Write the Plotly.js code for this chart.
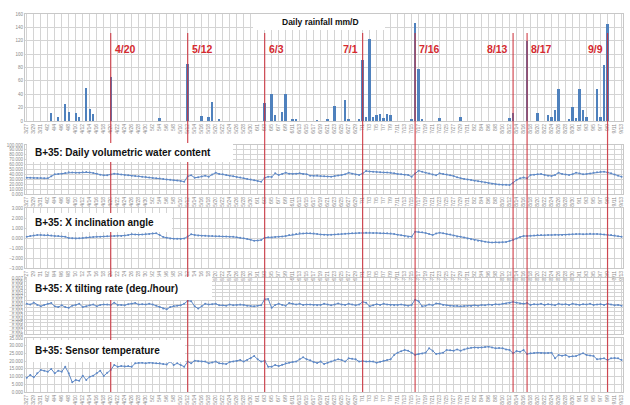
<!DOCTYPE html>
<html>
<head>
<meta charset="utf-8">
<script src="https://cdn.plot.ly/plotly-3.0.1.min.js"></script>
<style>html,body{margin:0;padding:0;background:#fff;}#chart{width:630px;height:405px;}</style>
</head>
<body>
<div id="chart"></div>
<script>
// ---- data ----
const startDate = '2012-03-27';
const rainDates = ['2012-04-03','2012-04-05','2012-04-07','2012-04-08','2012-04-10','2012-04-11','2012-04-13','2012-04-14','2012-04-15','2012-04-20',
 '2012-05-04','2012-05-12','2012-05-16','2012-05-18','2012-05-19','2012-05-21',
 '2012-06-03','2012-06-05','2012-06-06','2012-06-08','2012-06-09','2012-06-11','2012-06-12','2012-06-18','2012-06-21','2012-06-23','2012-06-26','2012-06-27','2012-06-30',
 '2012-07-01','2012-07-02','2012-07-03','2012-07-04','2012-07-05','2012-07-06','2012-07-07','2012-07-08','2012-07-09',
 '2012-07-15','2012-07-16','2012-07-17','2012-07-18','2012-07-23','2012-07-29',
 '2012-08-12','2012-08-13','2012-08-17','2012-08-20','2012-08-23','2012-08-24','2012-08-25','2012-08-26','2012-08-29','2012-08-30','2012-08-31',
 '2012-09-01','2012-09-02','2012-09-03','2012-09-06','2012-09-07','2012-09-08','2012-09-09'];
const rainValues = [12.5,6.5,26,14,12.5,6.5,49,18,10,66,
 4,85,7.5,5.5,29,3,
 27.5,40,9.5,13,40,3,3,1,2.5,22.5,31.5,2.5,3,
 91.5,5.5,122.5,6.5,8.5,10.5,4,11,9.5,
 3,146.5,77.5,2.5,5,5.5,
 4,11.5,120,11.5,9,6.5,16.5,47.5,3,21.5,4,
 47.5,16.5,5.5,47.5,5.5,84,145.5];

const waterContent = [
 33.3,33.0,32.8,32.5,32.5,32.2,32.0,36.0,40.1,40.8,
 41.5,43.0,44.2,43.8,43.5,43.5,44.2,44.9,44.0,42.8,
 41.2,39.5,38.1,38.5,40.0,41.5,40.6,39.9,39.0,38.4,
 37.5,36.8,36.0,35.1,34.5,33.6,32.9,32.0,31.4,30.5,
 29.8,28.9,28.3,27.4,26.6,25.2,36.0,38.1,33.3,34.0,
 35.5,37.4,35.4,40.0,43.5,41.0,40.1,38.9,37.5,36.2,
 34.8,33.5,32.1,30.8,29.4,28.0,26.6,25.2,33.0,35.4,
 34.7,42.2,38.8,41.0,43.5,41.5,40.8,41.5,42.2,41.0,
 40.5,37.5,37.0,38.0,36.5,36.0,35.6,35.4,36.5,37.8,
 39.0,40.1,43.5,41.5,40.0,38.8,42.0,46.9,46.0,45.2,
 44.9,44.5,44.0,43.8,43.5,42.2,41.0,40.1,39.2,38.8,
 35.4,42.0,47.6,45.5,43.5,42.0,40.0,38.1,42.2,41.0,
 39.8,38.5,36.7,34.0,32.0,30.8,29.8,28.6,27.2,25.9,
 24.8,23.5,22.0,20.8,19.7,19.3,19.0,18.7,18.4,23.0,
 28.6,32.0,33.5,32.0,38.8,39.5,40.2,40.8,39.0,37.5,
 36.7,39.0,43.5,41.0,40.0,38.8,40.5,43.5,42.0,40.1,
 41.0,42.0,43.5,44.5,45.2,45.6,44.0,42.2,40.0,37.5,
 35.4];

const inclination = [
 0.13,0.2,0.25,0.3,0.3,0.28,0.3,0.25,0.2,0.2,
 0.15,0.13,0.0,-0.03,-0.05,-0.03,0.0,0.05,0.07,0.1,
 0.12,0.13,0.15,0.18,0.2,0.2,0.22,0.2,0.25,0.3,
 0.37,0.35,0.33,0.35,0.38,0.4,0.45,0.47,0.3,0.1,
 0.03,-0.05,-0.07,-0.08,-0.1,-0.05,0.15,0.37,0.3,0.25,
 0.23,0.22,0.2,0.2,0.18,0.17,0.15,0.15,0.13,0.12,
 0.08,0.03,-0.03,-0.1,-0.18,-0.27,-0.25,-0.2,0.03,0.07,
 0.05,0.1,0.13,0.15,0.2,0.3,0.35,0.4,0.47,0.45,
 0.47,0.47,0.45,0.4,0.35,0.33,0.3,0.32,0.35,0.38,
 0.4,0.42,0.45,0.47,0.47,0.5,0.5,0.52,0.53,0.5,
 0.5,0.48,0.47,0.47,0.45,0.4,0.33,0.27,0.2,0.13,
 0.13,0.63,0.6,0.57,0.5,0.4,0.3,0.45,0.53,0.47,
 0.4,0.35,0.25,0.15,0.13,0.05,-0.05,-0.12,-0.2,-0.27,
 -0.33,-0.38,-0.43,-0.45,-0.43,-0.45,-0.43,-0.4,-0.3,-0.2,
 -0.05,0.1,0.2,0.2,0.22,0.25,0.3,0.3,0.28,0.3,
 0.3,0.32,0.3,0.3,0.32,0.35,0.38,0.4,0.4,0.38,
 0.4,0.42,0.4,0.4,0.38,0.35,0.33,0.3,0.25,0.18,
 0.13];

const tiltRate = [
 0.0001,-0.0001,0.0004,-0.0002,-0.0006,-0.0002,0.0001,0.0003,-0.0006,-0.0008,
 -0.0003,-0.0008,-0.001,-0.0004,-0.0002,0.0001,-0.0008,-0.0006,-0.0003,-0.0001,
 -0.0006,-0.0002,-0.0001,-0.0001,-0.0002,0.0004,-0.0002,-0.0002,-0.0003,0.0,
 0.0001,0.0003,-0.0001,0.0,-0.0001,0.0001,-0.0001,-0.0004,-0.0008,-0.0012,
 -0.0014,-0.0008,-0.0005,-0.0004,-0.0003,0.0001,0.0009,0.0008,-0.0006,-0.0012,
 -0.0006,0.0001,-0.0001,0.0,0.0001,-0.0003,-0.0003,-0.0004,-0.0001,-0.0003,
 -0.0002,-0.0001,-0.0002,-0.0004,-0.0005,-0.0006,-0.0004,-0.0003,0.0013,0.0014,
 -0.001,-0.0002,0.0001,-0.0002,-0.0004,0.0003,0.0001,-0.0001,0.0001,-0.0002,
 -0.0001,-0.0001,-0.0002,-0.0003,-0.0002,0.0001,-0.0001,-0.0003,-0.0001,0.0002,
 -0.0001,-0.0002,0.0001,-0.0001,-0.0003,-0.0001,0.0006,0.0004,-0.0006,-0.0003,
 0.0,-0.0002,0.0001,-0.0001,-0.0002,-0.0003,-0.0002,-0.0001,-0.0003,-0.0004,
 -0.0002,0.0012,0.0008,-0.0006,-0.0004,-0.0001,-0.0003,0.0002,0.0001,-0.0002,
 -0.0003,-0.0004,-0.0005,-0.0004,-0.0006,-0.0005,-0.0004,-0.0005,-0.0003,-0.0004,
 -0.0002,-0.0003,-0.0001,-0.0002,0.0,-0.0001,0.0001,0.0002,0.0003,0.0006,
 0.0004,0.0002,0.0001,0.0003,-0.0002,0.0,-0.0001,0.0001,-0.0002,0.0,
 -0.0001,-0.0003,0.0001,-0.0001,0.0,-0.0002,0.0001,-0.0001,-0.0002,0.0,
 -0.0001,0.0001,-0.0002,-0.0001,0.0,-0.0002,0.0001,-0.0001,-0.0003,-0.0002,
 -0.0004];

const temperature = [
 9.3,11.0,9.5,12.1,14.3,13.8,13.2,14.9,12.1,13.8,
 13.2,16.4,12.1,6.3,7.8,7.3,10.6,7.8,9.9,10.6,
 12.1,13.8,10.4,12.5,14.3,17.5,16.4,16.8,16.6,16.8,
 16.4,18.6,19.0,18.9,18.6,19.0,18.8,18.6,18.6,18.2,
 17.9,19.7,17.5,18.6,17.5,16.4,19.7,18.6,20.3,20.0,
 19.7,19.7,18.6,19.2,19.7,18.6,18.4,18.1,19.4,19.8,
 20.1,20.7,19.7,20.8,21.8,23.3,21.2,19.7,20.3,16.4,
 16.4,17.5,16.8,17.7,18.6,19.0,19.4,19.7,21.2,22.5,
 21.2,20.5,19.3,18.8,19.7,18.1,19.0,19.7,20.5,21.2,
 20.7,19.7,21.8,21.5,21.2,19.7,20.1,19.7,19.9,19.7,
 19.0,19.6,20.3,20.8,21.2,24.0,25.5,26.4,27.2,26.8,
 25.5,24.0,24.6,25.0,25.5,28.3,26.8,24.6,25.0,25.5,
 27.2,27.0,26.8,27.6,26.8,27.6,28.3,28.6,28.9,28.7,
 28.9,29.1,29.4,28.9,28.3,28.5,28.3,27.6,27.2,25.1,
 26.5,26.1,27.2,24.6,25.1,25.3,25.5,25.3,25.1,25.3,
 25.5,21.8,24.0,23.5,24.0,22.9,23.1,23.3,24.3,25.1,
 24.0,23.6,23.3,21.2,21.5,21.8,20.7,21.8,22.0,21.8,
 20.7];

const eventDates = ['2012-04-20','2012-05-12','2012-06-03','2012-07-01','2012-07-16','2012-08-13','2012-08-17','2012-09-09'];
const eventLabels = ['4/20','5/12','6/3','7/1','7/16','8/13','8/17','9/9'];
const eventSide = ['right','right','right','left','right','left','right','left'];

const panelTitles = ['Daily rainfall mm/D','B+35: Daily volumetric water content','B+35: X inclination angle','B+35: X tilting rate (deg./hour)','B+35: Sensor temperature'];

// ---- build daily dates ----
const DAY = 86400000;
const t0 = Date.parse(startDate + 'T00:00:00Z');
const days = waterContent.map((_, i) => new Date(t0 + i * DAY).toISOString().slice(0, 10));

const lineColor = '#5f89c6';
function lineTrace(y, ax) {
  return {type:'scatter', mode:'lines+markers', x:days, y:y, xaxis:'x'+ax, yaxis:'y'+ax,
    line:{color:lineColor, width:1}, marker:{color:lineColor, size:2}, hoverinfo:'skip'};
}
const traces = [
  {type:'bar', x:rainDates, y:rainValues, xaxis:'x', yaxis:'y', width:0.7*DAY,
   marker:{color:'#4f81bd', line:{width:0}}, hoverinfo:'skip'},
  lineTrace(waterContent, 2),
  lineTrace(inclination, 3),
  lineTrace(tiltRate, 4),
  lineTrace(temperature, 5)
];

const xRange = ['2012-03-26 12:00', '2012-09-13 10:00'];
function xax(anchor, showLabels) {
  return {type:'date', anchor:anchor, domain:[0,1], range:xRange, autorange:false,
    tick0:'2012-03-27', dtick:2*DAY, tickformat:'%-m/%-d', tickangle:-90,
    tickfont:{size:5, color:'#8a8a8a', family:'Liberation Sans, Arial, sans-serif'},
    showticklabels:showLabels, ticks:'', showgrid:true, gridcolor:'#d4d4d4', gridwidth:1,
    zeroline:false, showline:true, linecolor:'#c8c8c8', mirror:true};
}
function yax(anchor, dom, range, dtick, fmt) {
  return {anchor:anchor, domain:dom, range:range, autorange:false, dtick:dtick, tickformat:fmt,
    tickfont:{size:4.5, color:'#8a8a8a', family:'Liberation Sans, Arial, sans-serif'},
    ticks:'', showgrid:true, gridcolor:'#d4d4d4', gridwidth:1, zeroline:false,
    showline:true, linecolor:'#c8c8c8', mirror:true, fixedrange:true};
}

// pixel helpers for overlay placement (plot area: x 25..623, y 14..392)
const px = v => (v - 25) / 598;
const py = v => (392 - v) / 378;

const shapes = [];
eventDates.forEach(d => shapes.push({type:'line', xref:'x', yref:'paper', x0:d, x1:d, y0:0, y1:py(33),
  line:{color:'#cc2f3a', width:1.2}, opacity:0.85, layer:'above'}));
// white title boxes
const boxes = [[253,385,14,30],[27,233,143,162],[27,172,213,232],[27,212,277,300],[27,185,340,362]];
boxes.forEach(b => shapes.push({type:'rect', xref:'paper', yref:'paper', x0:px(b[0]), x1:px(b[1]), y0:py(b[3]), y1:py(b[2]),
  fillcolor:'#ffffff', line:{width:0}, layer:'above'}));

const annotations = [];
eventDates.forEach((d, i) => annotations.push({xref:'x', yref:'paper', x:d, y:py(49), text:eventLabels[i],
  showarrow:false, xanchor:eventSide[i]==='right'?'left':'right', xshift:eventSide[i]==='right'?2:-3, yanchor:'middle',
  font:{family:'Liberation Sans, Arial, sans-serif', size:10.5, color:'#d52a30', weight:'bold'}}));
annotations.push({xref:'paper', yref:'paper', x:px(320), y:py(22), text:'<b>'+panelTitles[0]+'</b>', showarrow:false,
  xanchor:'center', yanchor:'middle', font:{family:'Liberation Sans, Arial, sans-serif', size:8.5, color:'#111'}});
const tY = [153, 222, 288, 350];
for (let i = 1; i < 5; i++) {
  annotations.push({xref:'paper', yref:'paper', x:px(33), y:py(tY[i-1]), text:'<b>'+panelTitles[i]+'</b>', showarrow:false,
    xanchor:'left', yanchor:'middle', font:{family:'Liberation Sans, Arial, sans-serif', size:10, color:'#111'}});
}

const layout = {
  width:630, height:405, margin:{l:25, r:7, t:14, b:13},
  paper_bgcolor:'#ffffff', plot_bgcolor:'#ffffff', showlegend:false, bargap:0,
  font:{family:'Liberation Sans, Arial, sans-serif'},
  xaxis: xax('y', true), xaxis2: xax('y2', true), xaxis3: xax('y3', true), xaxis4: xax('y4', false), xaxis5: xax('y5', true),
  yaxis: yax('x', [py(121), 1], [0,160], 20, 'd'),
  yaxis2: yax('x2', [py(194), py(145)], [0,100], 10, '.3f'),
  yaxis3: yax('x3', [py(268), py(208)], [-3,3], 1, '.3f'),
  yaxis4: yax('x4', [py(334), py(278)], [-0.008,0.007], 0.001, '.3f'),
  yaxis5: yax('x5', [0, py(338)], [0,35], 5, '.3f'),
  shapes: shapes, annotations: annotations
};

Plotly.newPlot('chart', traces, layout, {displayModeBar:false, staticPlot:true});
</script>
</body>
</html>
